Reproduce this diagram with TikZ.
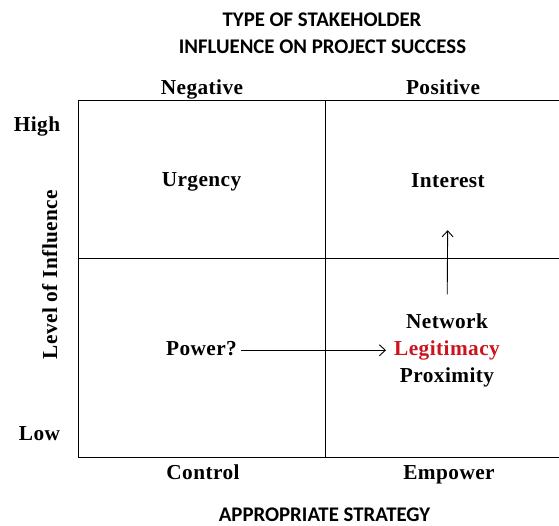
\documentclass[tikz,border=0pt]{standalone}
\usepackage{fontspec}
\setmainfont{Liberation Serif}
\newfontfamily\wordfont[LetterSpace=2]{Liberation Serif}
\newfontfamily\headfont{Carlito}
\usetikzlibrary{positioning,arrows.meta}
\definecolor{legred}{RGB}{204,20,30}

\begin{document}
\begin{tikzpicture}[x=1pt, y=-1pt, node distance=27pt, auto,
  head/.style={font=\headfont\bfseries\fontsize{20.8}{24}\selectfont, anchor=base, inner sep=0pt},
  word/.style={font=\wordfont\bfseries\fontsize{21.3}{25}\selectfont, anchor=base, inner sep=0pt,
    text height=15pt, text depth=4.5pt},
  link/.style={line width=0.9pt, -{Straight Barb[length=6pt, width=11pt]}}]
\useasboundingbox (0,0) rectangle (559,525);
\clip (0,0) rectangle (559,525);

% titles
\node (t1) [head] at (322,26) {TYPE OF STAKEHOLDER};
\node (t2) [head] at (322.5,53) {INFLUENCE ON PROJECT SUCCESS};
\node (st) [head] at (324.5,521) {APPROPRIATE STRATEGY};

% the grid
\draw[line width=1pt] (78,100) rectangle (570,457);
\draw[line width=1pt] (325,100) -- (325,457);
\draw[line width=1pt] (78,258) -- (570,258);

% axis labels
\node (neg) [word] at (202,94) {Negative};
\node (pos) [word] at (443,94) {Positive};
\node (hi) [word] at (37,131) {High};
\node (lo) [word] at (39.5,440) {Low};
\node (lvl) [word, rotate=90] at (57,274.5) {Level of Influence};
\node (ctl) [word] at (203,479) {Control};
\node (emp) [word] at (449,479) {Empower};

% cells
\node (urg) [word] at (201.5,186) {Urgency};
\node (int) [word] at (448,187) {Interest};
\node (pow) [word] at (201.5,355.5) {Power?};
\node (net) [word] at (447,328.5) {Network};
\node (leg) [word, text=legred] [below of = net] {Legitimacy};
\node (prx) [word] [below of = leg] {Proximity};

\draw[link, shorten <=4pt, shorten >=8pt] (pow) -- (leg);
\draw[link, shorten <=19pt, shorten >=38.5pt] (net) -- (int);
\end{tikzpicture}
\end{document}
